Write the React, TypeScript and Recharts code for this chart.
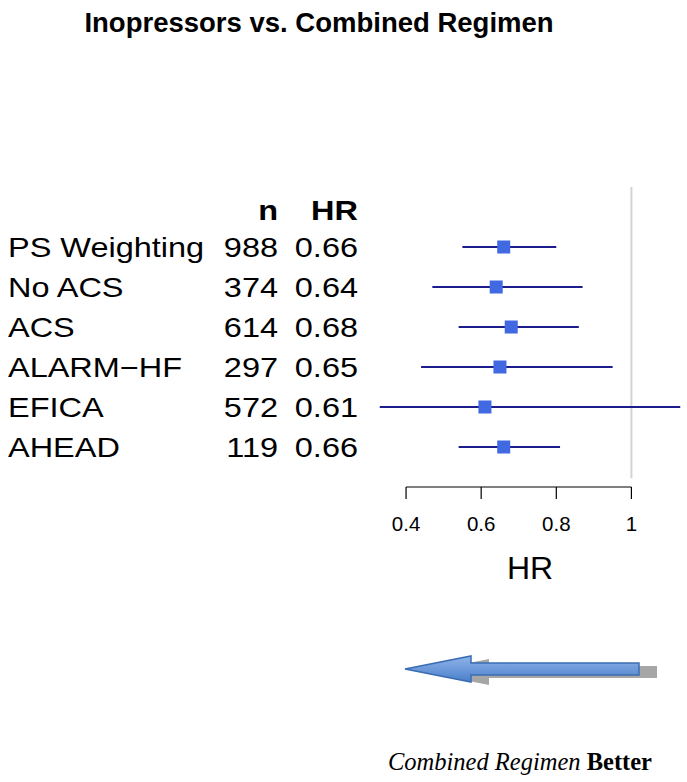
import React from "react";
import {
  ScatterChart,
  Scatter,
  XAxis,
  YAxis,
  ErrorBar,
  ReferenceLine,
} from "recharts";

// ─── Data ─────────────────────────────────────────────────────────────────────

const studies = ["PS Weighting", "No ACS", "ACS", "ALARM\u2212HF", "EFICA", "AHEAD"];
const nValues = [988, 374, 614, 297, 572, 119];
const hrValues = [0.66, 0.64, 0.68, 0.65, 0.61, 0.66];
const ciLow = [0.55, 0.47, 0.54, 0.44, 0.33, 0.54];
const ciHigh = [0.8, 0.87, 0.86, 0.95, 1.13, 0.81];
const hrTicks = [0.4, 0.6, 0.8, 1];

const FONT = "'Liberation Sans', Arial, Helvetica, sans-serif";
const SQUARE = "#4169E1";
const CI_LINE = "#1c1c8c";

// row 0 is the header (n / HR), rows 1..6 the studies, row 7 holds the axis line
const rows = studies.map((name, i) => ({
  row: i + 1,
  name,
  n: nValues[i],
  hr: hrValues[i],
  lo: ciLow[i],
  hi: ciHigh[i],
}));

// ─── Custom pieces ────────────────────────────────────────────────────────────

// eslint-disable-next-line @typescript-eslint/no-explicit-any
function SquareDot(props: any) {
  const { cx, cy } = props;
  if (cx == null || cy == null) return null;
  return <rect x={cx - 6.5} y={cy - 6.5} width={13} height={13} fill={SQUARE} />;
}

function Cell({ x, y, text, anchor, bold }: { x: number; y: number; text: string; anchor: "start" | "end"; bold?: boolean }) {
  return (
    <g transform={`translate(${x},${y}) scale(1.16,1)`}>
      <text
        x={0}
        y={0}
        dy="0.355em"
        textAnchor={anchor}
        fontFamily={FONT}
        fontSize={28}
        fontWeight={bold ? "bold" : "normal"}
        fill="#000"
      >
        {text}
      </text>
    </g>
  );
}

// eslint-disable-next-line @typescript-eslint/no-explicit-any
function TableTick(props: any) {
  const { y, payload } = props;
  const idx = payload.value;
  if (idx === 0) {
    return (
      <g>
        <Cell x={278} y={y + 3} text="n" anchor="end" bold />
        <Cell x={358} y={y + 3} text="HR" anchor="end" bold />
      </g>
    );
  }
  const r = rows[idx - 1];
  if (!r) return null;
  return (
    <g>
      <Cell x={8} y={y} text={r.name} anchor="start" />
      <Cell x={278} y={y} text={String(r.n)} anchor="end" />
      <Cell x={358} y={y} text={r.hr.toFixed(2)} anchor="end" />
    </g>
  );
}

// ─── Component ────────────────────────────────────────────────────────────────

export default function App() {
  return (
    <div style={{ position: "absolute", left: 0, top: 0, width: 687, height: 782, background: "#fff" }}>
      <ScatterChart
        width={687}
        height={782}
        margin={{ top: 187, right: 3, left: 0, bottom: 195 }}
      >
        <XAxis
          type="number"
          dataKey="hr"
          domain={[0.32, 1.14]}
          allowDataOverflow
          ticks={hrTicks}
          interval={0}
          tickFormatter={(v: number) => (v === 1 ? "1" : v.toFixed(1))}
          axisLine={false}
          tickLine={{ stroke: "#000", strokeWidth: 1.2 }}
          tickSize={12}
          tickMargin={17}
          height={100}
          tick={{ fill: "#000", fontSize: 20.5, fontFamily: FONT }}
          label={{ value: "HR", position: "insideTop", offset: 69, fill: "#000", fontSize: 32, fontFamily: FONT }}
        />
        <YAxis
          type="number"
          dataKey="row"
          domain={[-0.5, 7]}
          reversed
          ticks={[0, 1, 2, 3, 4, 5, 6]}
          interval={0}
          width={376}
          axisLine={false}
          tickLine={false}
          tick={<TableTick />}
        />
        <ReferenceLine
          segment={[{ x: 1, y: -0.5 }, { x: 1, y: 6.78 }]}
          stroke="#d3d3d3"
          strokeWidth={2}
          ifOverflow="visible"
        />
        <ReferenceLine
          segment={[{ x: 0.4, y: 7 }, { x: 1, y: 7 }]}
          stroke="#000"
          strokeWidth={1.2}
          ifOverflow="visible"
        />
        <Scatter data={rows} shape={<SquareDot />} isAnimationActive={false}>
          <ErrorBar
            dataKey={(d: { hr: number; lo: number; hi: number }) => [d.hr - d.lo, d.hi - d.hr]}
            direction="x"
            width={0}
            stroke={CI_LINE}
            strokeWidth={2}
            isAnimationActive={false}
          />
        </Scatter>
      </ScatterChart>

      {/* title, arrow and caption drawn over the chart */}
      <svg
        width={687}
        height={782}
        style={{ position: "absolute", left: 0, top: 0, pointerEvents: "none" }}
      >
        <defs>
          <linearGradient id="arrowFill" x1="0" y1="0" x2="0" y2="1">
            <stop offset="0%" stopColor="#8fb4e8" />
            <stop offset="100%" stopColor="#4a7fcb" />
          </linearGradient>
        </defs>
        <text
          x={319}
          y={32}
          textAnchor="middle"
          fontFamily={FONT}
          fontSize={27.5}
          fontWeight="bold"
          fill="#000"
        >
          Inopressors vs. Combined Regimen
        </text>
        <polygon
          points="423,672 489,659 489,666 657,666 657,678 489,678 489,685"
          fill="#a6a6a6"
        />
        <polygon
          points="405,669 471,656 471,663 639,663 639,675 471,675 471,682"
          fill="url(#arrowFill)"
          stroke="#3b6db3"
          strokeWidth={1.5}
        />
        <text x={388} y={770} fontFamily="'Liberation Serif', 'Times New Roman', serif" fontSize={24.5} fill="#000">
          <tspan fontStyle="italic">Combined Regimen</tspan>
          <tspan fontWeight="bold"> Better</tspan>
        </text>
      </svg>
    </div>
  );
}
